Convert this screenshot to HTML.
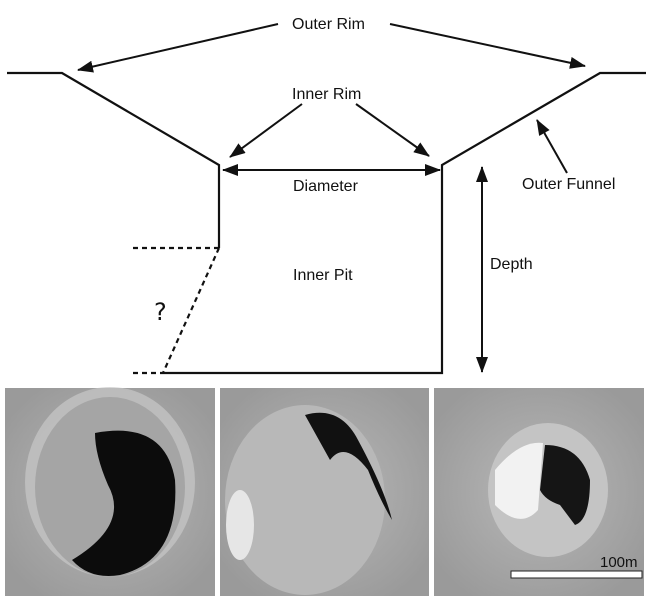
<!DOCTYPE html>
<html><head><style>
html,body{margin:0;padding:0;background:#fff;width:649px;height:600px;overflow:hidden}
text{font-family:"Liberation Sans",sans-serif;font-size:16px;fill:#111}
</style></head><body>
<svg width="649" height="600" viewBox="0 0 649 600" xmlns="http://www.w3.org/2000/svg">
<defs>
<marker id="b" markerWidth="16" markerHeight="12" refX="15" refY="6" orient="auto-start-reverse" markerUnits="userSpaceOnUse"><path d="M0,0 L16,6 L0,12 Z" fill="#111"/></marker>
<radialGradient id="g1" cx="50%" cy="50%" r="60%"><stop offset="0" stop-color="#b8b8b8"/><stop offset="1" stop-color="#9a9a9a"/></radialGradient>
</defs>
<g stroke="#111" stroke-width="2.2" fill="none">
<polyline points="7,73 62,73 219,165 219,248"/>
<polyline points="163,373 442,373 442,165 600,73 646,73"/>
<line x1="133" y1="248" x2="219" y2="248" stroke-dasharray="5,4"/>
<line x1="219" y1="248" x2="163" y2="373" stroke-dasharray="5,4"/>
<line x1="133" y1="373" x2="163" y2="373" stroke-dasharray="5,4"/>
</g>
<g stroke="#111" stroke-width="2" fill="none">
<line x1="278" y1="24" x2="78" y2="70" marker-end="url(#b)"/>
<line x1="390" y1="24" x2="585" y2="66" marker-end="url(#b)"/>
<line x1="302" y1="104" x2="230" y2="157" marker-end="url(#b)"/>
<line x1="356" y1="104" x2="429" y2="156" marker-end="url(#b)"/>
<line x1="223" y1="170" x2="440" y2="170" marker-start="url(#b)" marker-end="url(#b)"/>
<line x1="482" y1="167" x2="482" y2="372" marker-start="url(#b)" marker-end="url(#b)"/>
<line x1="567" y1="173" x2="537" y2="120" marker-end="url(#b)"/>
</g>
<text x="292" y="29">Outer Rim</text>
<text x="292" y="99">Inner Rim</text>
<text x="293" y="191">Diameter</text>
<text x="293" y="280">Inner Pit</text>
<text x="490" y="269">Depth</text>
<text x="522" y="189">Outer Funnel</text>
<text x="154" y="320" style="font-size:24px;font-family:'DejaVu Sans',sans-serif">?</text>
<rect x="5" y="388" width="210" height="208" fill="url(#g1)"/>
<ellipse cx="110" cy="482" rx="85" ry="95" fill="#c8c8c8" opacity=".7"/>
<ellipse cx="110" cy="487" rx="75" ry="90" fill="#a5a5a5"/>
<path d="M95,433 Q165,420 175,480 Q180,560 120,575 Q90,580 72,560 Q130,525 108,485 Q95,455 95,433 Z" fill="#0c0c0c"/>
<rect x="220" y="388" width="209" height="208" fill="url(#g1)"/>
<ellipse cx="305" cy="500" rx="80" ry="95" fill="#b8b8b8"/>
<path d="M305,415 Q340,405 358,440 Q385,490 392,520 Q380,500 368,470 Q345,440 330,460 Z" fill="#111"/>
<ellipse cx="240" cy="525" rx="14" ry="35" fill="#e6e6e6"/>
<rect x="434" y="388" width="210" height="208" fill="url(#g1)"/>
<ellipse cx="548" cy="490" rx="60" ry="67" fill="#c4c4c4"/>
<path d="M495,470 Q520,440 543,443 L538,510 Q520,530 495,505 Z" fill="#f2f2f2"/>
<path d="M545,445 Q580,445 590,480 Q590,520 575,525 L560,505 Q545,500 540,490 Z" fill="#151515"/>
<rect x="511" y="571" width="131" height="7" fill="#fff" stroke="#222" stroke-width="1"/>
<text x="600" y="567" style="font-size:15px">100m</text>
</svg>
</body></html>
